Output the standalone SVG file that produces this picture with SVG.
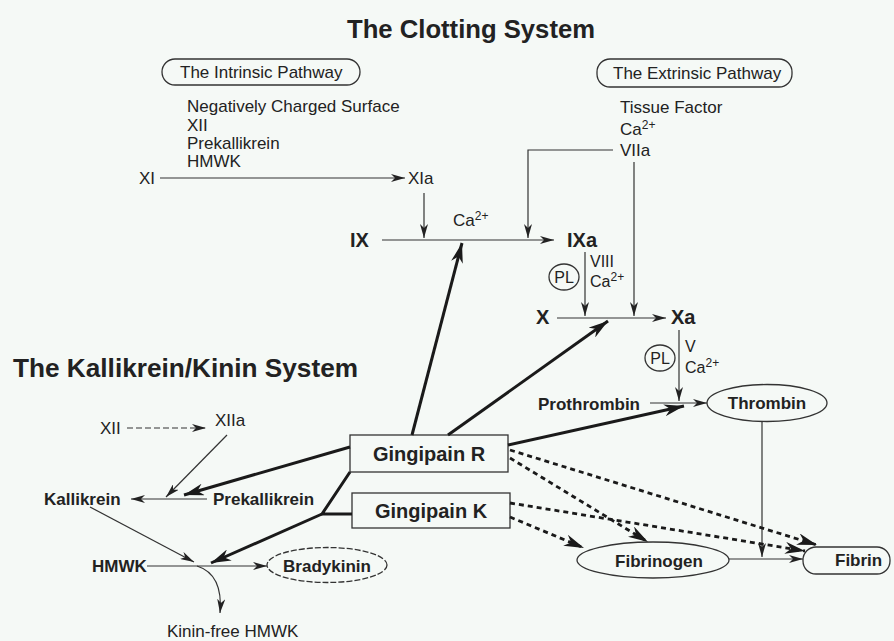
<svg xmlns="http://www.w3.org/2000/svg" width="894" height="641" viewBox="0 0 894 641">
<defs>
<style>
text{font-family:"Liberation Sans",Arial,sans-serif;fill:#222;}
.t{font-size:17px;}
.s{font-size:16px;}
.b{font-size:17px;font-weight:bold;}
.f{font-size:20px;font-weight:bold;}
.h{font-size:26px;font-weight:bold;}
.sup{font-size:12px;}
.thin{stroke:#333;stroke-width:1.2;fill:none;}
.thick{stroke:#1a1a1a;stroke-width:3;fill:none;}
.dot{stroke:#1a1a1a;stroke-width:2.8;fill:none;stroke-dasharray:5 4;}
.shape{stroke:#333;stroke-width:1.3;fill:none;}
</style>
<marker id="a" viewBox="0 0 14 8" refX="14" refY="4" markerWidth="14" markerHeight="8" orient="auto" markerUnits="userSpaceOnUse"><path d="M0,0 L14,4 L0,8 L4,4 z" fill="#222"/></marker>
<marker id="A" viewBox="0 0 20 12" refX="20" refY="6" markerWidth="20" markerHeight="12" orient="auto" markerUnits="userSpaceOnUse"><path d="M0,0 L20,6 L0,12 L6,6 z" fill="#1a1a1a"/></marker>
</defs>
<rect width="894" height="641" fill="#f5f9f6"/>
<text class="h" x="347" y="38" textLength="248" lengthAdjust="spacingAndGlyphs">The Clotting System</text>
<text class="h" x="13" y="377" textLength="345" lengthAdjust="spacingAndGlyphs">The Kallikrein/Kinin System</text>

<g id="intrinsic">
<rect class="shape" x="162" y="59" width="198" height="26" rx="13"/>
<text class="t" x="180" y="78">The Intrinsic Pathway</text>
<text class="t" x="187" y="112">Negatively Charged Surface</text>
<text class="t" x="187" y="131">XII</text>
<text class="t" x="187" y="149">Prekallikrein</text>
<text class="t" x="187" y="167">HMWK</text>
</g>
<g id="extrinsic">
<rect class="shape" x="597" y="59" width="195" height="28" rx="13"/>
<text class="t" x="613" y="79">The Extrinsic Pathway</text>
<text class="t" x="620" y="113">Tissue Factor</text>
<text class="t" x="620" y="135">Ca<tspan class="sup" dy="-6">2+</tspan></text>
<text class="t" x="620" y="156">VIIa</text>
</g>
<g id="XI"><text class="t" x="139" y="184">XI</text></g>
<g id="XIa"><text class="t" x="408" y="184">XIa</text></g>
<g id="IX"><text class="f" x="350" y="247">IX</text></g>
<g id="IXa"><text class="f" x="567" y="247">IXa</text></g>
<g id="X"><text class="f" x="536" y="324">X</text></g>
<g id="Xa"><text class="f" x="671" y="324">Xa</text></g>
<g id="cofactors">
<text class="t" x="453" y="226">Ca<tspan class="sup" dy="-6">2+</tspan></text>
<ellipse class="shape" cx="564" cy="277" rx="15" ry="13"/>
<text class="s" x="564" y="283" text-anchor="middle">PL</text>
<text class="s" x="590" y="267">VIII</text>
<text class="s" x="590" y="287">Ca<tspan class="sup" dy="-6">2+</tspan></text>
<ellipse class="shape" cx="660" cy="358" rx="15" ry="13"/>
<text class="s" x="660" y="364" text-anchor="middle">PL</text>
<text class="s" x="685" y="352">V</text>
<text class="s" x="685" y="373">Ca<tspan class="sup" dy="-6">2+</tspan></text>
</g>
<g id="prothrombin"><text class="b" x="538" y="410">Prothrombin</text></g>
<g id="thrombin">
<ellipse class="shape" cx="767" cy="403" rx="60" ry="18.5"/>
<text class="b" x="767" y="409" text-anchor="middle">Thrombin</text>
</g>
<g id="fibrinogen">
<ellipse class="shape" cx="653" cy="560" rx="76" ry="18"/>
<text class="b" x="659" y="567" text-anchor="middle">Fibrinogen</text>
</g>
<g id="fibrin">
<rect class="shape" x="803" y="547" width="87" height="27" rx="13"/>
<text class="b" x="835" y="566">Fibrin</text>
</g>
<g id="gingipainR">
<rect class="shape" x="350" y="435" width="158" height="37" fill="#f5f9f6"/>
<text class="f" x="429" y="461" text-anchor="middle">Gingipain R</text>
</g>
<g id="gingipainK">
<rect class="shape" x="352" y="493" width="158" height="35" fill="#f5f9f6"/>
<text class="f" x="431" y="518" text-anchor="middle">Gingipain K</text>
</g>
<g id="XIIk"><text class="t" x="100" y="434">XII</text></g>
<g id="XIIak"><text class="t" x="215" y="426">XIIa</text></g>
<g id="kallikrein"><text class="b" x="44" y="505">Kallikrein</text></g>
<g id="prekallikrein"><text class="b" x="213" y="505">Prekallikrein</text></g>
<g id="HMWK"><text class="b" x="92" y="572">HMWK</text></g>
<g id="bradykinin">
<ellipse class="shape" cx="327" cy="565" rx="60" ry="17.5" stroke-dasharray="6 2"/>
<text class="b" x="327" y="572" text-anchor="middle">Bradykinin</text>
</g>
<g id="kininfree"><text class="t" x="167" y="637">Kinin-free HMWK</text></g>

<g id="connectors">
<line class="thin" x1="160" y1="178" x2="405" y2="178" marker-end="url(#a)"/>
<line class="thin" x1="424" y1="193" x2="424" y2="238" marker-end="url(#a)"/>
<polyline class="thin" points="613,150 528,150 528,238" marker-end="url(#a)"/>
<line class="thin" x1="634" y1="162" x2="634" y2="316" marker-end="url(#a)"/>
<line class="thin" x1="382" y1="240" x2="554" y2="240" marker-end="url(#a)"/>
<line class="thin" x1="585" y1="252" x2="585" y2="316" marker-end="url(#a)"/>
<line class="thin" x1="557" y1="318" x2="666" y2="318" marker-end="url(#a)"/>
<line class="thin" x1="679" y1="330" x2="679" y2="401" marker-end="url(#a)"/>
<line class="thin" x1="650" y1="403" x2="707" y2="403" marker-end="url(#a)"/>
<line class="thin" x1="762" y1="422" x2="762" y2="557" marker-end="url(#a)"/>
<line class="thin" x1="729" y1="559" x2="803" y2="559" marker-end="url(#a)"/>
<line class="thin" x1="127" y1="428" x2="206" y2="428" stroke-dasharray="6 3" marker-end="url(#a)"/>
<line class="thin" x1="227" y1="435" x2="166" y2="497" marker-end="url(#a)"/>
<line class="thin" x1="207" y1="499" x2="131" y2="499" marker-end="url(#a)"/>
<line class="thin" x1="90" y1="507" x2="194" y2="562" marker-end="url(#a)"/>
<line class="thin" x1="147" y1="566" x2="267" y2="566" marker-end="url(#a)"/>
<path class="thin" d="M197,566 C216,572 222,590 220,613" marker-end="url(#a)"/>
<line class="thick" x1="412" y1="435" x2="462" y2="243" marker-end="url(#A)"/>
<line class="thick" x1="448" y1="435" x2="608" y2="321" marker-end="url(#A)"/>
<line class="thick" x1="508" y1="445" x2="684" y2="406" marker-end="url(#A)"/>
<line class="thick" x1="350" y1="447" x2="184" y2="495" marker-end="url(#A)"/>
<polyline class="thick" points="350,472 322,514 352,514"/>
<line class="thick" x1="322" y1="514" x2="211" y2="563" marker-end="url(#A)"/>
<line class="dot" x1="510" y1="450" x2="817" y2="545" marker-end="url(#A)"/>
<line class="dot" x1="510" y1="458" x2="648" y2="542" marker-end="url(#A)"/>
<line class="dot" x1="510" y1="503" x2="805" y2="551" marker-end="url(#A)"/>
<line class="dot" x1="510" y1="517" x2="584" y2="548" marker-end="url(#A)"/>
</g>
</svg>
